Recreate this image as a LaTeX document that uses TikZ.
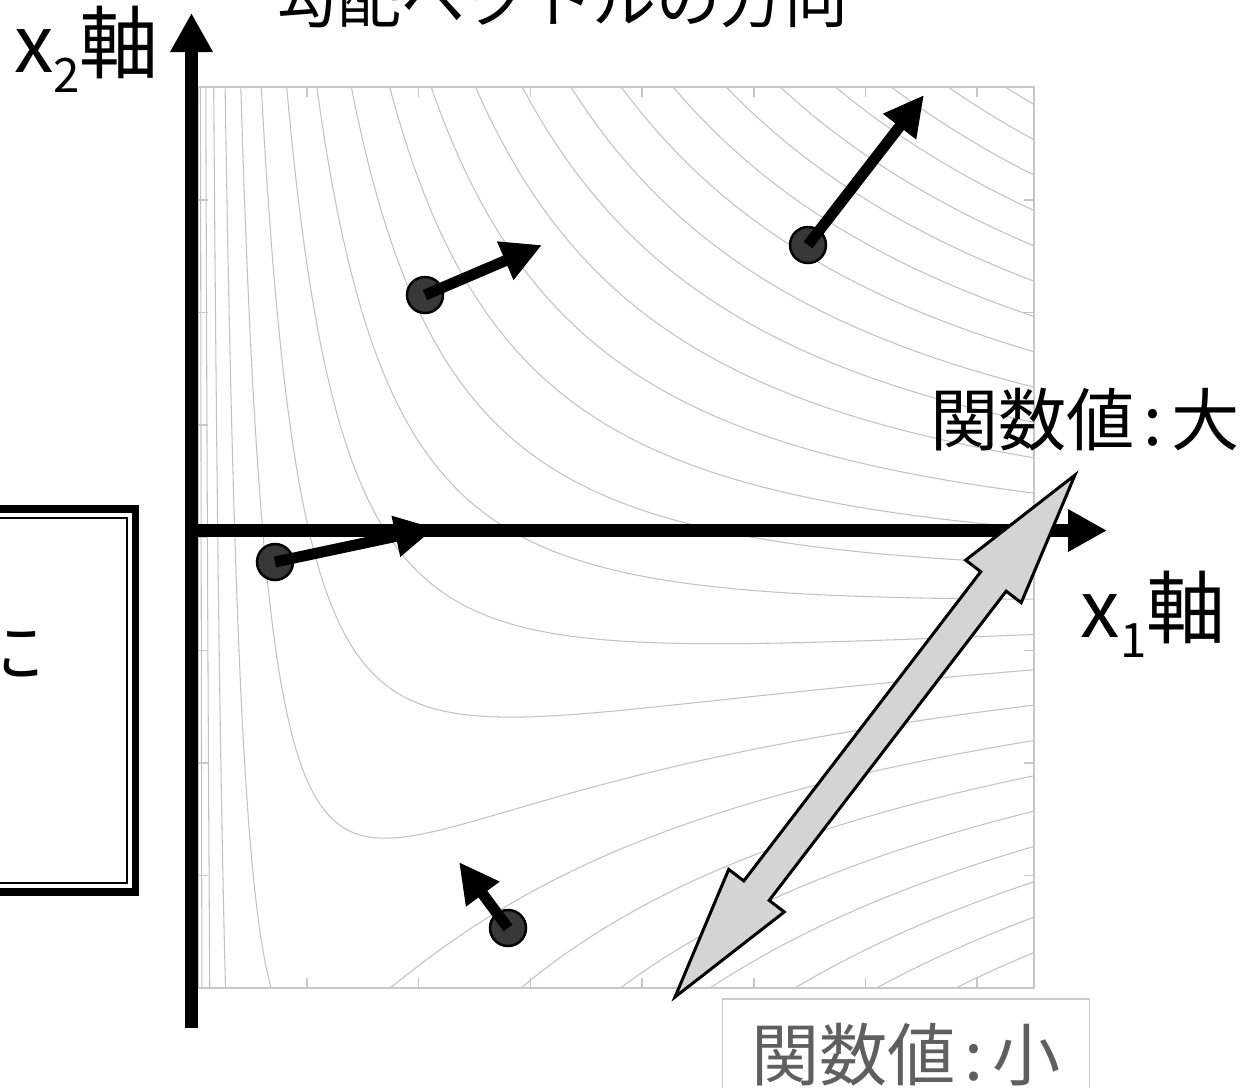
\documentclass[tikz,border=0pt]{standalone}
\usepackage{fontspec}
\newfontfamily\jpfont{Noto Sans CJK JP}
\usetikzlibrary{arrows.meta}

\definecolor{lowgray}{HTML}{5F5F5F}
\newcommand{\axsub}[1]{\raisebox{-0.2cm}{\fontsize{13.5}{14}\selectfont #1}}

\tikzset{
	axline/.style={line width=0.13cm, -{Triangle[length=0.39cm,width=0.40cm]}},
	gradarrow/.style={line width=0.11cm, -{Triangle[length=0.40cm,width=0.39cm]}},
	pt/.style={circle, draw=black, line width=0.025cm, fill=black!78, minimum size=0.36cm, inner sep=0pt},
	contourline/.style={black!24, line width=0.3pt},
	frm/.style={black!22, line width=0.015cm},
	spanarrow/.style={draw=black, line width=0.03cm, fill=black!17, line join=miter},
	lbl/.style={font=\jpfont\fontsize{22.5}{24}\selectfont, inner sep=0pt},
	val/.style={font=\jpfont\fontsize{19.4}{21}\selectfont, inner sep=0pt},
}

\begin{document}
\begin{tikzpicture}
	\useasboundingbox (-1.915,-5.565) rectangle (10.565,5.305);
	
	% contour lines of f = ln x1 + a x1 x2
	\begin{scope}
		\clip (0.065,-4.575) rectangle (8.425,4.435);
		\foreach \c in {-4.34,-3.84,...,8.2} {
			\draw[contourline] plot[domain=-2.75:2.14, samples=220, variable=\t] ({exp(\t)}, {max(-6,min(6,(\c-\t)/(0.168*exp(\t))))});
		}
	\end{scope}
	\draw[frm] (0.065,-4.575) rectangle (8.425,4.435);
	\foreach \x in {1.155,2.272,...,7.9} {
		\draw[frm] (\x,4.435) -- ++(0,-0.1);
		\draw[frm] (\x,-4.575) -- ++(0,0.1);
	}
	\foreach \y in {-3.45,-2.324,...,3.4} {
		\draw[frm] (0.065,\y) -- ++(0.1,0);
		\draw[frm] (8.425,\y) -- ++(-0.1,0);
	}
	
	% box on the left
	\draw[line width=0.075cm] (-5,0.215) rectangle (-0.56,-3.615);
	\draw[line width=0.02cm] (-5,0.125) rectangle (-0.64,-3.525);
	\node[val, anchor=base east] (note) at (-1.465,-1.465) {に};
	
	% axes
	\coordinate (x1a) at (-0.065,0);
	\coordinate (x1b) at (9.155,0);
	\coordinate (x2a) at (0,-4.975);
	\coordinate (x2b) at (0,5.175);
	\draw[axline] (x1a) -- (x1b);
	\draw[axline] (x2a) -- (x2b);
	
	% points and gradients
	\node[pt] (pa) at (2.335,2.355) {};
	\node[pt] (pb) at (6.165,2.855) {};
	\node[pt] (pc) at (0.835,-0.315) {};
	\node[pt] (pd) at (3.165,-3.975) {};
	\coordinate (ga) at (3.505,2.855);
	\coordinate (gb) at (7.325,4.355);
	\coordinate (gc) at (2.435,0.025);
	\coordinate (gd) at (2.675,-3.315);
	\draw[gradarrow] (pa.center) -- (ga);
	\draw[gradarrow] (pb.center) -- (gb);
	\draw[gradarrow] (pc.center) -- (gc);
	\draw[gradarrow] (pd.center) -- (gd);
	
	% low <-> high
	\coordinate (lo) at (4.835,-4.665);
	\coordinate (hi) at (8.835,0.555);
	\begin{scope}[shift={(lo)}, rotate=52.54]
		\draw[spanarrow] (0,0) -- (1.34,0.35) -- (1.34,0.16) -- (5.236,0.16) -- (5.236,0.35) -- (6.576,0)
			-- (5.236,-0.35) -- (5.236,-0.16) -- (1.34,-0.16) -- (1.34,-0.35) -- cycle;
	\end{scope}
	
	% labels
	\node[val, font=\jpfont\fontsize{18.2}{20}\selectfont, anchor=base] (title) at (3.695,5.085) {勾配ベクトルの方向};
	\node[lbl, anchor=base west] (x2lbl) at (-1.78,4.58) {x\axsub{2}軸};
	\node[lbl, anchor=base west] (x1lbl) at (8.885,-1.065) {x\axsub{1}軸};
	\node[val, anchor=base west] (high) at (7.38,0.855) {関数値\hspace{0.13em}:\hspace{0.13em}大};
	\node[val, text=lowgray, draw=black!20, line width=0.015cm, minimum width=3.67cm, minimum height=1.12cm] (low) at (7.145,-5.245) {関数値\hspace{0.13em}:\hspace{0.13em}小};
\end{tikzpicture}
\end{document}
